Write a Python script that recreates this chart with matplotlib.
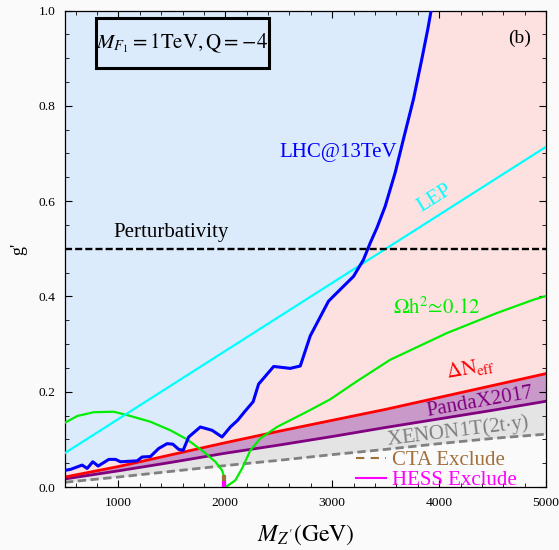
import matplotlib
matplotlib.use('Agg')
import matplotlib.pyplot as plt
from matplotlib.lines import Line2D
from matplotlib.patches import Rectangle
from matplotlib.ticker import MultipleLocator

# ─── LHC@13TeV dilepton bound ────────────────────────────────────────────────
lhc_M = [500, 551, 660, 707, 760, 810, 910, 972, 1019, 1175, 1221, 1299, 1377,
         1455, 1508, 1564, 1605, 1657, 1766, 1876, 1969, 2047, 2115, 2180, 2260,
         2311, 2452, 2607, 2701, 2794, 2965, 3059, 3199, 3292, 3355, 3420, 3495,
         3589, 3666, 3760, 3838, 3894, 3925]
lhc_g = [0.035, 0.037, 0.046, 0.039, 0.053, 0.044, 0.058, 0.058, 0.053, 0.055,
         0.063, 0.064, 0.081, 0.091, 0.090, 0.079, 0.077, 0.105, 0.126, 0.119,
         0.105, 0.126, 0.140, 0.158, 0.179, 0.216, 0.253, 0.249, 0.254, 0.317,
         0.390, 0.411, 0.442, 0.477, 0.512, 0.545, 0.589, 0.660, 0.730, 0.814,
         0.898, 0.961, 1.0]

# ─── LEP bound ───────────────────────────────────────────────────────────────
lep_M = [500, 5000]
lep_g = [0.0714, 0.714]

# ─── Relic density Ωh² ≈ 0.12 (two branches around the resonance) ───────────
relic_left_M = [500, 614, 769, 956, 1081, 1299, 1486, 1642, 1797, 1907, 1969, 1991, 1997]
relic_left_g = [0.135, 0.149, 0.157, 0.158, 0.151, 0.137, 0.119, 0.100, 0.074,
                0.053, 0.035, 0.020, 0.0]
relic_right_M = [2016, 2093, 2156, 2234, 2327, 2483, 2763, 2981, 3231, 3542,
                 4072, 4539, 4882, 5000]
relic_right_g = [0.002, 0.014, 0.039, 0.077, 0.102, 0.126, 0.158, 0.184, 0.222,
                 0.267, 0.323, 0.365, 0.393, 0.401]

# ─── ΔNeff, PandaX2017, XENON1T(2t·y) ───────────────────────────────────────
line_M   = [500, 1000, 1500, 2000, 2500, 3000, 3500, 4000, 4500, 5000]
neff_g   = [0.021, 0.043, 0.068, 0.093, 0.117, 0.140, 0.163, 0.188, 0.213, 0.238]
pandax_g = [0.017, 0.034, 0.052, 0.071, 0.088, 0.106, 0.125, 0.143, 0.161, 0.180]
xenon_g  = [0.010, 0.021, 0.033, 0.045, 0.056, 0.068, 0.079, 0.091, 0.102, 0.111]

# ─── Indirect detection at the resonance ────────────────────────────────────
cta_M  = [1992, 1992]
cta_g  = [0.013, 0.025]
hess_M = [1992, 1992]
hess_g = [0.0, 0.013]

PERTURB = 0.5

# ─── Style ──────────────────────────────────────────────────────────────────
plt.rcParams.update({
    "font.family":      ["Liberation Serif", "DejaVu Serif"],
    "mathtext.fontset": "stix",
    "figure.facecolor": "#fafafa",
    "axes.facecolor":   "#fafafa",
    "axes.linewidth":   0.9,
})

fig = plt.figure(figsize=(5.59, 5.5), dpi=100)
ax = fig.add_axes([0.1163, 0.1145, 0.8605, 0.8664])

# regiones
ax.fill_between(line_M, neff_g, 1.0, color='#fde1e1', lw=0, zorder=0)
ax.fill_between(lhc_M, lhc_g, 1.0, color='#dcebfb', lw=0, zorder=0.5)
ax.fill_between(line_M, pandax_g, neff_g, color='#c999c9', lw=0, zorder=0.5)
ax.fill_between(line_M, xenon_g, pandax_g, color='#e4e4e4', lw=0, zorder=0.5)

# curvas
ax.plot(line_M, xenon_g, color='#808080', lw=2.0, dashes=(3.0, 1.6), zorder=2)
ax.plot(line_M, pandax_g, color='#800080', lw=2.0, zorder=2)
ax.plot(line_M, neff_g, color='#ff0000', lw=2.0, zorder=2)
ax.plot(relic_left_M, relic_left_g, color='#00ee00', lw=1.6, zorder=3)
ax.plot(relic_right_M, relic_right_g, color='#00ee00', lw=1.6, zorder=3)
ax.plot(lep_M, lep_g, color='#00ffff', lw=1.6, zorder=3)
ax.plot(lhc_M, lhc_g, color='#0000ff', lw=2.2, zorder=4)
ax.axhline(PERTURB, color='black', lw=1.7, dashes=(3.0, 1.3), zorder=4)
ax.plot(cta_M, cta_g, color='#a0703c', lw=3.0, solid_capstyle='butt', zorder=5)
ax.plot(hess_M, hess_g, color='#ff00ff', lw=3.0, solid_capstyle='butt', zorder=5)

# etiquetas
ax.text(3056, 0.702, 'LHC@13TeV', color='#0000ff', fontsize=15, ha='center', va='center')
ax.text(3960, 0.605, 'LEP', color='#00ffff', fontsize=15, ha='center', va='center',
        rotation=32)
ax.text(1495, 0.534, 'Perturbativity', color='black', fontsize=15, ha='center', va='center')
ax.text(3981, 0.376, r'$\Omega\mathrm{h}^2\!\simeq\!0.12$', color='#00ee00', fontsize=15,
        ha='center', va='center')
ax.text(4290, 0.250, r'$\mathrm{\Delta N_{eff}}$', color='#ff0000', fontsize=15,
        ha='center', va='center', rotation=10)
ax.text(4383, 0.178, 'PandaX2017', color='#800080', fontsize=15, ha='center',
        va='center', rotation=10)
ax.text(4178, 0.117, r'XENON1T(2t$\cdot$y)', color='#808080', fontsize=15,
        ha='center', va='center', rotation=7)

handles = [Line2D([], [], color='#a0703c', lw=1.5, dashes=(4, 3)),
           Line2D([], [], color='#ff00ff', lw=1.5)]
ax.legend(handles, ['CTA Exclude', 'HESS Exclude'], loc='lower left',
          bbox_to_anchor=(0.605, -0.006), frameon=False, fontsize=15,
          labelcolor=['#a0703c', '#ff00ff'], handlelength=1.45,
          handletextpad=0.3, labelspacing=0.0, borderpad=0, borderaxespad=0)

ax.add_patch(Rectangle((0.0644, 0.879), 0.36, 0.105, transform=ax.transAxes,
                       fill=False, ec='black', lw=2.2, zorder=6))
ax.text(0.244, 0.932, r'$M_{F_1}\mathrm{=1TeV,Q=}\!-\!4$', transform=ax.transAxes,
        fontsize=15, ha='center', va='center', zorder=6)
ax.text(0.946, 0.942, '(b)', transform=ax.transAxes, fontsize=14,
        ha='center', va='center')

# ejes
ax.set_xlim(500, 5000)
ax.set_ylim(0, 1.0)
ax.xaxis.set_major_locator(MultipleLocator(1000))
ax.xaxis.set_minor_locator(MultipleLocator(200))
ax.yaxis.set_major_locator(MultipleLocator(0.2))
ax.yaxis.set_minor_locator(MultipleLocator(0.05))
ax.yaxis.set_major_formatter(lambda v, p: f'{v:.1f}')
ax.tick_params(which='both', direction='in', top=True, right=True, labelsize=9.7)
ax.tick_params(which='major', length=5, width=0.8, pad=7)
ax.tick_params(which='minor', length=3, width=0.6)
ax.set_xlabel(r'$M_{Z^{\prime}}\mathrm{(GeV)}$', fontsize=17, labelpad=10)
ax.set_ylabel("g'", fontsize=13, labelpad=8)

fig.savefig('out.png', dpi=100, facecolor=fig.get_facecolor())
